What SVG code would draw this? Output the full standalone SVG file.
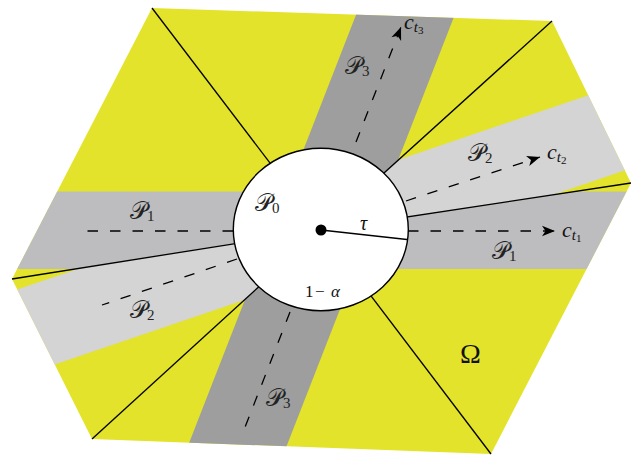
<svg xmlns="http://www.w3.org/2000/svg" width="633" height="457" viewBox="0 0 633 457">
<style>
.rad{stroke:#000;stroke-width:1.3;fill:none}
.dash{stroke:#000;stroke-width:1.3;fill:none;stroke-dasharray:10.5 12}
.lbl{font-family:"DejaVu Serif","Liberation Serif",serif;font-size:24px;fill:#222}
.sub{font-family:"Liberation Serif",serif;font-size:15px;font-style:normal}
.it{font-family:"Liberation Serif",serif;font-style:italic;fill:#111}
.p1{fill:#bdbdbf}.p2{fill:#d4d4d4}.p3{fill:#9d9e9d}
</style>
<defs>
<clipPath id="s01"><polygon points="321,230 12,279 152,8"/></clipPath>
<clipPath id="s12"><polygon points="321,230 152,8 552,21"/></clipPath>
<clipPath id="s23"><polygon points="321,230 552,21 631,183"/></clipPath>
<clipPath id="s34"><polygon points="321,230 631,183 491,454"/></clipPath>
<clipPath id="s45"><polygon points="321,230 491,454 92,439"/></clipPath>
<clipPath id="s50"><polygon points="321,230 92,439 12,279"/></clipPath>
<marker id="arr" markerUnits="userSpaceOnUse" markerWidth="20" markerHeight="20" refX="14" refY="10" orient="auto" viewBox="0 0 20 20">
<path d="M14,10 L1,4.8 L4.5,10 L1,15.2 Z" fill="#000"/>
</marker>
</defs>
<g id="omega">
<polygon points="152,8 552,21 631,183 491,454 92,439 12,279" fill="#e3e32b"/>
</g>
<g id="strips">
<g clip-path="url(#s01)"><rect class="p1" x="0" y="191.5" width="633" height="77.5"/></g>
<g clip-path="url(#s34)"><rect class="p1" x="0" y="191.5" width="633" height="77.5"/></g>
<g clip-path="url(#s23)"><rect class="p2" x="-400" y="-41.5" width="800" height="83" transform="translate(321,230) rotate(-18.8)"/></g>
<g clip-path="url(#s50)"><rect class="p2" x="-400" y="-41.5" width="800" height="83" transform="translate(321,230) rotate(-18.8)"/></g>
<g clip-path="url(#s12)"><rect class="p3" x="-46" y="-400" width="92" height="800" transform="translate(321.5,230) rotate(21.3)"/></g>
<g clip-path="url(#s45)"><rect class="p3" x="-46" y="-400" width="92" height="800" transform="translate(321.5,230) rotate(21.3)"/></g>
</g>
<g id="connectors">
<line class="rad" x1="12" y1="279" x2="321" y2="230"/>
<line class="rad" x1="152" y1="8" x2="321" y2="230"/>
<line class="rad" x1="552" y1="21" x2="321" y2="230"/>
<line class="rad" x1="631" y1="183" x2="321" y2="230"/>
<line class="rad" x1="491" y1="454" x2="321" y2="230"/>
<line class="rad" x1="92" y1="439" x2="321" y2="230"/>
<path class="dash" d="M408,231 L555,231" marker-end="url(#arr)"/>
<path class="dash" d="M233,231 L87,231"/>
<path class="dash" d="M406,201 L540,157" marker-end="url(#arr)"/>
<path class="dash" d="M237,259 L102,305"/>
<path class="dash" d="M356,142 L401,27" marker-end="url(#arr)"/>
<path class="dash" d="M290,312 L242,435"/>
</g>
<g id="P0">
<ellipse cx="320.8" cy="229.5" rx="87.5" ry="81.2" fill="#fff" stroke="#000" stroke-width="1.4"/>
<circle cx="321" cy="230" r="5.5" fill="#000"/>
<line x1="321" y1="230" x2="407" y2="239.5" stroke="#000" stroke-width="1.3"/>
<text class="lbl" x="255" y="211">𝒫<tspan class="sub" dy="2">0</tspan></text>
<text class="it" x="360" y="230" font-size="20">τ</text>
<text class="it" y="297" font-size="17"><tspan x="305" font-style="normal">1</tspan><tspan x="315" font-style="normal">−</tspan><tspan x="331">α</tspan></text>
</g>
<g id="labels">
<text class="lbl" x="130" y="219">𝒫<tspan class="sub" dy="2">1</tspan></text>
<text class="lbl" x="492" y="259">𝒫<tspan class="sub" dy="2">1</tspan></text>
<text class="lbl" x="130" y="318">𝒫<tspan class="sub" dy="2">2</tspan></text>
<text class="lbl" x="468" y="161">𝒫<tspan class="sub" dy="2">2</tspan></text>
<text class="lbl" x="345" y="74">𝒫<tspan class="sub" dy="2">3</tspan></text>
<text class="lbl" x="266" y="406">𝒫<tspan class="sub" dy="2">3</tspan></text>
<text class="it" x="562" y="237" font-size="22">c<tspan font-size="15" dy="3">t</tspan><tspan font-size="11" dy="2" font-style="normal">1</tspan></text>
<text class="it" x="547" y="159" font-size="22">c<tspan font-size="15" dy="3">t</tspan><tspan font-size="11" dy="2" font-style="normal">2</tspan></text>
<text class="it" x="404" y="29" font-size="22">c<tspan font-size="15" dy="3">t</tspan><tspan font-size="11" dy="2" font-style="normal">3</tspan></text>
<text x="460" y="363" font-family="Liberation Serif, serif" font-size="28" fill="#111">Ω</text>
</g>
</svg>
